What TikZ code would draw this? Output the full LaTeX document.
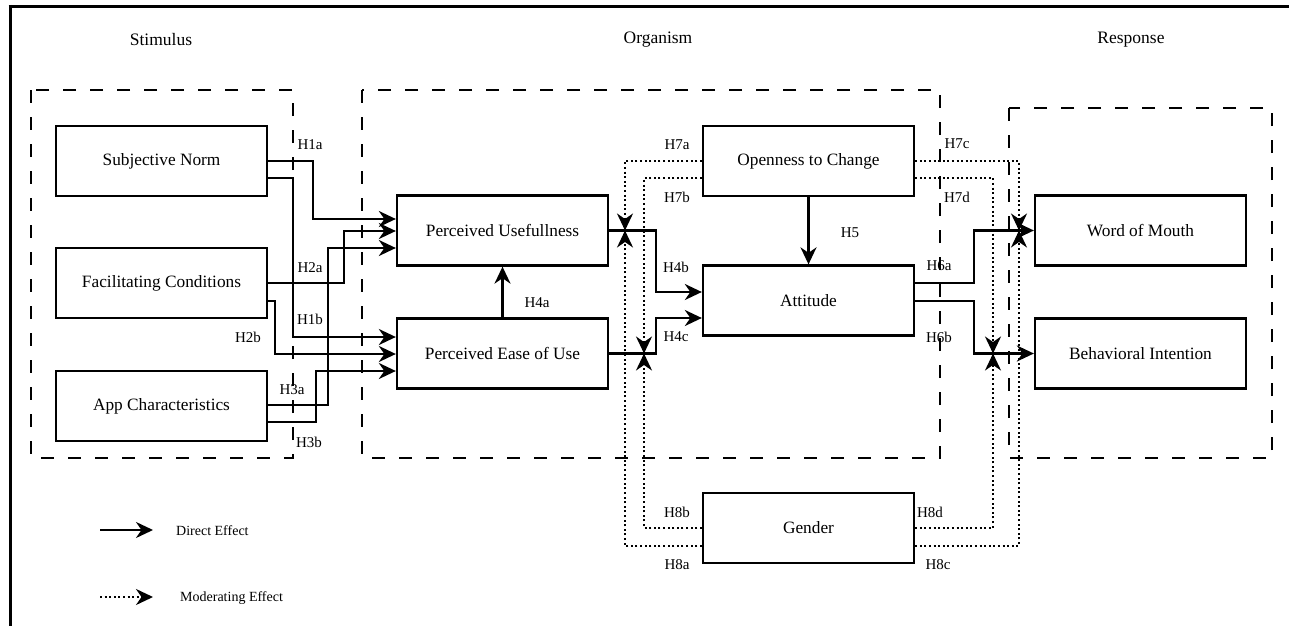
\documentclass[tikz,border=0pt]{standalone}
\usepackage{fontspec}
\setmainfont{Liberation Serif}
\usetikzlibrary{arrows.meta,calc}
\begin{document}
\begin{tikzpicture}[x=1pt,y=-1pt,
  box/.style={draw,line width=2.3pt,minimum width=211pt,minimum height=70pt,inner sep=0pt,font=\fontsize{17.3}{20}\selectfont},
  hyp/.style={font=\fontsize{15}{17}\selectfont,inner sep=0pt},
  head/.style={font=\fontsize{17.5}{20}\selectfont,inner sep=0pt},
  legtext/.style={font=\fontsize{14}{16}\selectfont,inner sep=0pt},
  group/.style={draw,line width=2.3pt,dash pattern=on 13pt off 14pt},
  tipstyle/.style={-{Stealth[length=17pt,width=16pt,inset=5.5pt]}},
  direct/.style={line width=2.3pt,tipstyle},
  moder/.style={line width=2pt,dash pattern=on 2pt off 2.6pt,tipstyle},
  frame/.style={line width=3pt}
]
\useasboundingbox (0,0) rectangle (1289,626);
% page frame
\draw[frame] (8.5,6.5) -- (1289,6.5);
\draw[frame] (10,5) -- (10,626);

% headers
\node[head] (hs) at (161,40) {Stimulus};
\node[head] (ho) at (658,40) {Organism};
\node[head] (hr) at (1131,40) {Response};

% group boxes
\draw[group] (31,90) rectangle (293,458);
\draw[group] (362,90) rectangle (940,458);
\draw[group] (1009,108) rectangle (1272,458);

% boxes
\node[box] (sn) at (161.5,161) {Subjective Norm};
\node[box] (fc) at (161.5,283) {Facilitating Conditions};
\node[box] (ac) at (161.5,406) {App Characteristics};
\node[box] (pu) at (502.5,230.5) {Perceived Usefullness};
\node[box] (peou) at (502.5,353.5) {Perceived Ease of Use};
\node[box] (oc) at (808.5,161) {Openness to Change};
\node[box] (att) at (808.5,300.5) {Attitude};
\node[box] (gen) at (808.5,528) {Gender};
\node[box] (wom) at (1140.5,230.5) {Word of Mouth};
\node[box] (bi) at (1140.5,353.5) {Behavioral Intention};

% stimulus -> organism
\draw[direct] (sn.east) -| (313,219) -- (pu.west |- 0,219);
\draw[direct] ([yshift=-17pt]sn.east) -| (293,337) -- (peou.west |- 0,337);
\draw[direct] (fc.east) -| (344,231) -- (pu.west |- 0,231);
\draw[direct] ([yshift=-18pt]fc.east) -| (275,354) -- (peou.west |- 0,354);
\draw[direct] ([yshift=1pt]ac.east) -| (328,248) -- (pu.west |- 0,248);
\draw[direct] ([yshift=-16pt]ac.east) -| (316,371) -- (peou.west |- 0,371);

% organism internal
\draw[direct] (peou.north) -- (pu.south);
\draw[direct] (pu.east) -| (656,292) -- (att.west |- 0,292);
\draw[direct] (peou.east) -| (656,318) -- (att.west |- 0,318);
\draw[direct] (oc.south) -- (att.north);

% organism -> response
\draw[direct] ([yshift=17.5pt]att.east) -| (974,230.5) -- (wom.west);
\draw[direct] ([yshift=-0.5pt]att.east) -| (974,353.5) -- (bi.west);

% moderation points
\coordinate (m1) at (625,230.5);
\coordinate (m2) at (644,353.5);
\coordinate (m3) at (1019,230.5);
\coordinate (m4) at (993,353.5);

\draw[moder] (oc.west) -| (m1);
\draw[moder] ([yshift=-17pt]oc.west) -| (m2);
\draw[moder] (oc.east) -| (m3);
\draw[moder] ([yshift=-17pt]oc.east) -| (m4);
\draw[moder] ([yshift=-18pt]gen.west) -| (m1);
\draw[moder] (gen.west) -| (m2);
\draw[moder] ([yshift=-18pt]gen.east) -| (m3);
\draw[moder] (gen.east) -| (m4);

% hypothesis labels
\node[hyp] (h1a) at (310,145) {H1a};
\node[hyp] (h1b) at (310,319) {H1b};
\node[hyp] (h2a) at (310,268) {H2a};
\node[hyp] (h2b) at (248,337) {H2b};
\node[hyp] (h3a) at (292,390) {H3a};
\node[hyp] (h3b) at (309,442) {H3b};
\node[hyp] (h4a) at (537,303) {H4a};
\node[hyp] (h4b) at (676,267) {H4b};
\node[hyp] (h4c) at (676,337) {H4c};
\node[hyp] (h5) at (850,233) {H5};
\node[hyp] (h6a) at (939,266) {H6a};
\node[hyp] (h6b) at (939,337) {H6b};
\node[hyp] (h7a) at (677,145) {H7a};
\node[hyp] (h7b) at (677,197) {H7b};
\node[hyp] (h7c) at (957,144) {H7c};
\node[hyp] (h7d) at (957,197) {H7d};
\node[hyp] (h8a) at (677,565) {H8a};
\node[hyp] (h8b) at (677,512) {H8b};
\node[hyp] (h8c) at (938,565) {H8c};
\node[hyp] (h8d) at (930,512) {H8d};

% legend
\coordinate (l1s) at (100,530);
\coordinate (l1e) at (153,530);
\coordinate (l2s) at (100,597);
\coordinate (l2e) at (153,597);
\draw[direct] (l1s) -- (l1e);
\draw[moder] (l2s) -- (l2e);
\node[legtext,anchor=west] (lt1) at (176,531) {Direct Effect};
\node[legtext,anchor=west] (lt2) at (180,598) {Moderating Effect};
\end{tikzpicture}
\end{document}
